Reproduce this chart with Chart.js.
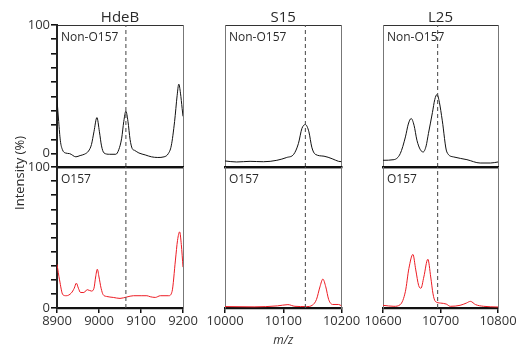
<!DOCTYPE html>
<html>
<head>
<meta charset="utf-8">
<script src="https://cdn.jsdelivr.net/npm/chart.js@4.4.1/dist/chart.umd.min.js"></script>
<style>
html,body{margin:0;padding:0;background:#fff;}
#wrap{position:relative;width:522px;height:349px;}
#wrap canvas{position:absolute;left:0;top:0;}
</style>
</head>
<body>
<div id="wrap">
<canvas id="c1" width="522" height="349"></canvas>
<canvas id="c2" width="522" height="349"></canvas>
<canvas id="c3" width="522" height="349"></canvas>
<canvas id="c4" width="522" height="349"></canvas>
<canvas id="c5" width="522" height="349"></canvas>
<canvas id="c6" width="522" height="349"></canvas>
</div>
<script>
// panel names, row labels, m/z windows and the dashed reference masses
const titles = ['HdeB', 'S15', 'L25']
const rowLabels = ['Non-O157', 'O157']
const mzRanges = [[8900, 9200], [10000, 10200], [10600, 10800]]
const markers = [9064, 10138, 10695]
const topTicks = [0, 11.1, 22.2, 33.3, 44.4, 55.6, 66.7, 77.8, 88.9, 100]
const bottomTicks = [0, 10, 20, 30, 40, 50, 60, 70, 80, 90, 100]

// HdeB
const hdebTopMz = [8900, 8904, 8908, 8913, 8920, 8930, 8945, 8955, 8965, 8975, 8982, 8988, 8995, 9001, 9006, 9012, 9025, 9040, 9047, 9054, 9059, 9064, 9069, 9074, 9079, 9085, 9095, 9110, 9125, 9140, 9155, 9165, 9172, 9180, 9186, 9190, 9194, 9198, 9200]
const hdebTopInt = [42, 25, 10, 3, 0.5, 0, -2.5, -1.5, -0.5, 2, 7, 17, 28, 17, 6, 0.5, -0.5, -0.5, 3, 12, 25, 33, 25, 11, 4, 2.5, 0.5, -1, -2.5, -3, -2.5, 0, 6, 25, 45, 54, 47, 35, 29]
const hdebBotMz = [8900, 8906, 8914, 8922, 8934, 8941, 8946, 8951, 8956, 8964, 8972, 8982, 8988, 8992, 8996, 9000, 9005, 9010, 9018, 9034, 9050, 9066, 9082, 9102, 9114, 9122, 9134, 9146, 9166, 9174, 9182, 9187, 9192, 9196, 9200]
const hdebBotInt = [31, 20, 9.4, 8.7, 10.6, 14, 17.6, 14, 11, 11, 13, 12, 14, 22, 27.5, 22, 14, 9.4, 8.2, 7.5, 6.8, 7.8, 8.7, 8.7, 8.7, 8, 7.5, 8.7, 8.7, 11.8, 34, 48, 54, 45, 29]

// S15
const s15TopMz = [10000, 10020, 10043, 10066, 10089, 10106, 10118, 10126, 10132, 10138, 10144, 10149, 10155, 10170, 10184, 10195, 10200]
const s15TopInt = [-5.7, -6.5, -6, -6.3, -5.2, -3, -0.5, 7.8, 19.5, 22.6, 17, 5, -0.5, -2, -4, -6, -6.2]
const s15BotMz = [10000, 10050, 10090, 10108, 10120, 10140, 10150, 10157, 10163, 10168, 10173, 10178, 10185, 10195, 10200]
const s15BotInt = [1, 0.8, 1.5, 2.4, 1.2, 1, 2, 6, 15, 20.5, 15, 6, 2.5, 2.5, 1.5]

// L25
const l25TopMz = [10600, 10619, 10630, 10639, 10644, 10649, 10654, 10659, 10665, 10670, 10675, 10679, 10686, 10690, 10694, 10698, 10703, 10711, 10723, 10746, 10769, 10787, 10800]
const l25TopInt = [-5.2, -4.7, 0, 13, 23, 27.3, 22, 10.4, 3, 1.3, 6, 15.6, 32, 42, 46, 40, 26, 1.3, -2.6, -4.7, -7.3, -7.3, -6.5]
const l25BotMz = [10600, 10619, 10630, 10639, 10645, 10652, 10657, 10662, 10666, 10671, 10678, 10683, 10687, 10691, 10700, 10710, 10717, 10734, 10745, 10752, 10761, 10775, 10800]
const l25BotInt = [1.9, 1.2, 2.4, 11.8, 28, 38, 27, 16, 14, 22, 34.6, 22, 10, 4.7, 3.5, 2.8, 1.2, 1.9, 3.5, 4.7, 2.4, 1.2, 0.7]

// panel boxes on the page
const colLeft = [57, 225, 383]
const colRight = [183, 341.5, 498]
const rowTop = [25, 167]
const rowBottom = [167, 308]

const FONT = '"Open Sans", "DejaVu Sans", sans-serif'

const panelText = {
	id: 'panelText',
	afterDraw(chart, args, o) {
		const {ctx, chartArea: a} = chart
		ctx.save()
		ctx.fillStyle = '#2a2a2a'
		if (o.title) {
			ctx.font = '15px ' + FONT
			ctx.textAlign = 'center'
			ctx.textBaseline = 'alphabetic'
			ctx.fillText(o.title, (a.left + a.right) / 2, a.top - 3)
		}
		if (o.label) {
			ctx.font = '12px ' + FONT
			ctx.textAlign = 'left'
			ctx.textBaseline = 'alphabetic'
			ctx.fillText(o.label, a.left + 4, a.top + 15.5)
		}
		if (o.yTitle) {
			ctx.font = '13px ' + FONT
			ctx.translate(20, 173)
			ctx.rotate(-Math.PI / 2)
			ctx.textAlign = 'center'
			ctx.textBaseline = 'middle'
			ctx.fillText(o.yTitle, 0, 0)
		}
		ctx.restore()
	}
}

function panel(id, col, row, mz, vals) {
	const isTop = row === 0
	const first = col === 0
	const yMin = isTop ? -10.4 : 0
	const yMax = 100
	const yTicks = isTop ? topTicks : bottomTicks
	new Chart(document.getElementById(id), {
		type: 'line',
		data: {
			datasets: [
				{
					data: [{x: markers[col], y: yMin}, {x: markers[col], y: yMax}],
					borderColor: '#555', borderWidth: 1.1, borderDash: [4, 3], pointRadius: 0, tension: 0
				},
				{
					data: mz.map((x, i) => ({x: x, y: vals[i]})),
					borderColor: isTop ? '#111' : '#ed1c24', borderWidth: 1, pointRadius: 0,
					cubicInterpolationMode: 'monotone', tension: 0.4
				}
			]
		},
		options: {
			responsive: false, animation: false, events: [],
			layout: {padding: {
				left: first ? 0 : colLeft[col],
				right: 522 - colRight[col],
				top: rowTop[row],
				bottom: isTop ? 349 - rowBottom[row] : 0
			}},
			plugins: {
				legend: {display: false},
				tooltip: {enabled: false},
				panelText: {
					title: isTop ? titles[col] : null,
					label: rowLabels[row],
					yTitle: (first && !isTop) ? 'Intensity (%)' : null
				}
			},
			scales: {
				x: {
					type: 'linear', position: 'bottom',
					min: mzRanges[col][0], max: mzRanges[col][1],
					afterFit: s => { s.height = isTop ? 0 : 41 },
					grid: {display: !isTop, drawOnChartArea: false, drawTicks: true, tickLength: 5, color: '#111', lineWidth: 1.5},
					border: {color: '#111', width: 2.2},
					ticks: {display: !isTop, stepSize: 100, maxRotation: 0, padding: 0, color: '#333', font: {family: FONT, size: 13},
						callback: v => String(v)},
					title: {display: !isTop && col === 1, text: 'm/z', color: '#333', padding: {top: 0, bottom: 1}, font: {family: FONT, size: 12, style: 'italic'}}
				},
				xTop: {
					type: 'linear', position: 'top', min: 0, max: 1,
					afterFit: s => { s.height = 0 },
					grid: {display: false}, ticks: {display: false},
					border: {color: isTop ? '#333' : '#111', width: isTop ? 1 : 2.2}
				},
				y: {
					type: 'linear', position: 'left', min: yMin, max: yMax,
					afterBuildTicks: s => { s.ticks = yTicks.map(v => ({value: v})) },
					afterFit: s => { s.width = first ? 57 : 0 },
					grid: {display: first, drawOnChartArea: false, drawTicks: true, tickLength: 6, color: '#111', lineWidth: 1.6},
					border: {color: first ? '#222' : '#777', width: first ? 2 : 1},
					ticks: {display: first, autoSkip: false, padding: 1, color: '#333', font: {family: FONT, size: 13},
						callback: v => (v === 0 || v === 100) ? String(v) : ''}
				},
				yRight: {
					type: 'linear', position: 'right', min: 0, max: 1,
					afterFit: s => { s.width = 0 },
					grid: {display: false}, ticks: {display: false},
					border: {color: '#777', width: 1}
				}
			}
		},
		plugins: [panelText]
	})
}

panel('c1', 0, 0, hdebTopMz, hdebTopInt)
panel('c2', 1, 0, s15TopMz, s15TopInt)
panel('c3', 2, 0, l25TopMz, l25TopInt)
panel('c4', 0, 1, hdebBotMz, hdebBotInt)
panel('c5', 1, 1, s15BotMz, s15BotInt)
panel('c6', 2, 1, l25BotMz, l25BotInt)
</script>
</body>
</html>
